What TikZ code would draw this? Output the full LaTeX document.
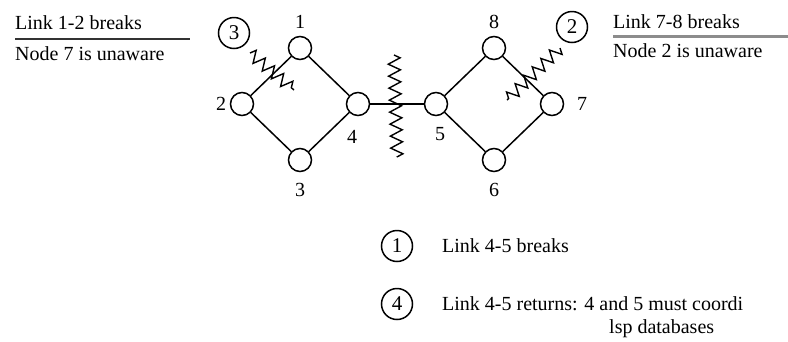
\documentclass[tikz,border=0pt]{standalone}
\usepackage{fontspec}
\setmainfont{Liberation Serif}
\usetikzlibrary{decorations.pathmorphing}
\begin{document}
\begin{tikzpicture}[x=1pt,y=-1pt,
  txt/.style={font=\fontsize{20}{24}\selectfont, inner sep=0pt},
  router/.style={circle, draw, line width=1.5pt, minimum size=23pt, inner sep=0pt},
  link/.style={line width=1.5pt},
  nlabel/.style={font=\fontsize{20}{24}\selectfont, inner sep=0pt},
  stepnum/.style={circle, draw, line width=1.5pt, minimum size=31pt, inner sep=0pt,
                  font=\fontsize{21}{24}\selectfont},
  breakmark/.style={line width=1.4pt, decorate,
                    decoration={zigzag, segment length=12pt, amplitude=6pt}}]
\useasboundingbox (0,0) rectangle (788,341);

% left area
\node[router] (n1) at (300,48) {};
\node[router] (n2) at (242,104) {};
\node[router] (n3) at (300,160) {};
\node[router] (n4) at (358,104) {};
% right area
\node[router] (n5) at (436,104) {};
\node[router] (n8) at (494,48) {};
\node[router] (n7) at (552,104) {};
\node[router] (n6) at (494,160) {};

\draw[link] (n1) -- (n2);
\draw[link] (n2) -- (n3);
\draw[link] (n3) -- (n4);
\draw[link] (n4) -- (n1);
\draw[link] (n4) -- (n5);
\draw[link] (n5) -- (n8);
\draw[link] (n8) -- (n7);
\draw[link] (n7) -- (n6);
\draw[link] (n6) -- (n5);

% node numbers
\node[nlabel] (l1) at (300,22) {1};
\node[nlabel] (l2) at (221,104) {2};
\node[nlabel] (l3) at (300,190) {3};
\node[nlabel] (l4) at (352,137) {4};
\node[nlabel] (l5) at (440,134) {5};
\node[nlabel] (l6) at (494,190) {6};
\node[nlabel] (l7) at (582,104) {7};
\node[nlabel] (l8) at (494,22) {8};

% broken links
\coordinate (bA) at (250,53);
\coordinate (bB) at (294,90);
\coordinate (bC) at (394,55);
\coordinate (bD) at (397,157);
\coordinate (bE) at (560,48);
\coordinate (bF) at (507,100);
\draw[breakmark] (bA) -- (bB);
\draw[breakmark] (bC) -- (bD);
\draw[breakmark] (bE) -- (bF);

% event order
\node[stepnum] (s3) at (234,33) {3};
\node[stepnum] (s2) at (572,27) {2};
\node[stepnum] (s1) at (397,246) {1};
\node[stepnum] (s4) at (397,304) {4};

% captions
\node[txt, anchor=base west] (capA) at (15,29) {Link 1-2 breaks};
\coordinate (ruleA1) at (15,39);
\coordinate (ruleA2) at (190,39);
\draw[line width=2pt, black!80] (ruleA1) -- (ruleA2);
\node[txt, anchor=base west] (capB) at (15,60) {Node 7 is unaware};

\node[txt, anchor=base west] (capC) at (613,28) {Link 7-8 breaks};
\coordinate (ruleB1) at (613,36);
\coordinate (ruleB2) at (788,36);
\draw[line width=3pt, black!45] (ruleB1) -- (ruleB2);
\node[txt, anchor=base west] (capD) at (613,57) {Node 2 is unaware};

\node[txt, anchor=base west] (ev1) at (442,252) {Link 4-5 breaks};
\node[txt, anchor=base west] (ev4) at (442,310) {Link 4-5 returns: 4 and 5 must coordi};
\node[txt, anchor=base west] (ev4b) at (609,333) {lsp databases};
\end{tikzpicture}
\end{document}
